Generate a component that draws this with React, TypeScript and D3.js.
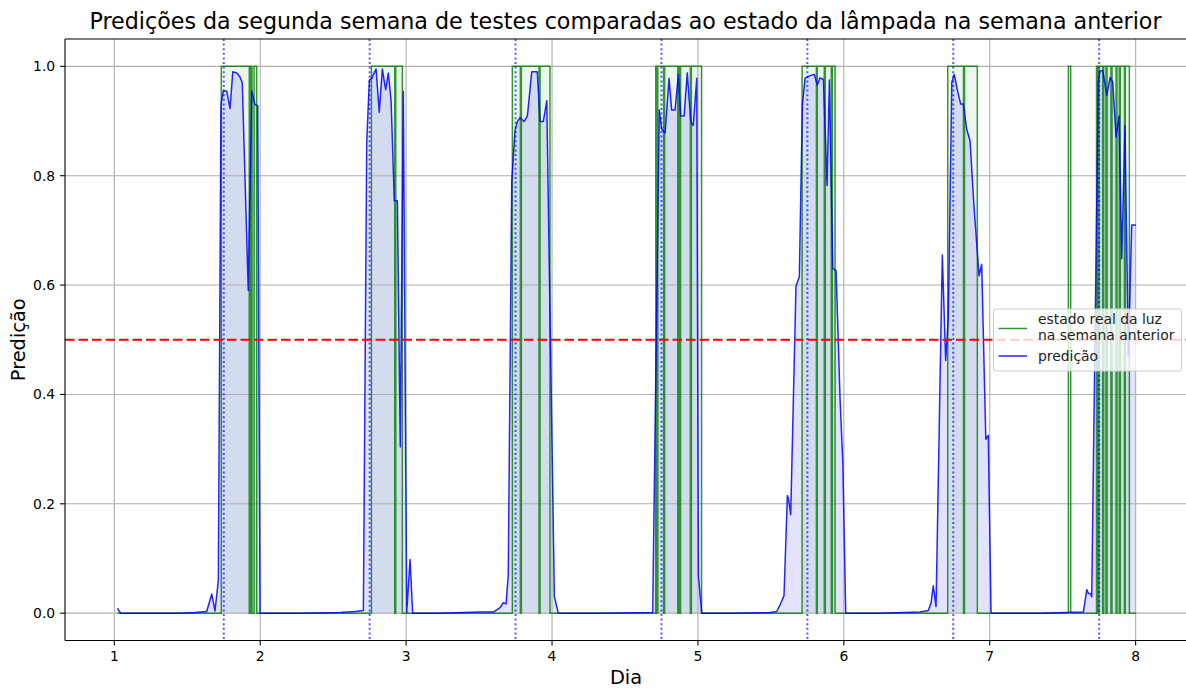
import React from "react";
import * as d3 from "d3";

// Canvas and plot frame
const WIDTH = 1186;
const HEIGHT = 688;
const PLOT = { left: 65, right: 1187, top: 39, bottom: 640.5 };

// Axes
const dayDomain: [number, number] = [0.662, 8.352];
const predDomain: [number, number] = [-0.05, 1.05];
const dayTicks = [1, 2, 3, 4, 5, 6, 7, 8];
const predTicks = [0, 0.2, 0.4, 0.6, 0.8, 1.0];

// Reference markers
const dayMarkers = [1.75, 2.75, 3.75, 4.75, 5.75, 6.75, 7.75];
const threshold = 0.5;

// Sampled span of both series
const seriesStart = 1.021;
const seriesEnd = 8.003;

// Model prediction, [day, value]
const predDay1: [number, number][] = [
  [1.021, 0.009], [1.044, 0], [1.45, 0], [1.553, 0.001], [1.633, 0.003], [1.668, 0.035],
  [1.69, 0.004], [1.713, 0.06], [1.731, 0.93], [1.747, 0.955], [1.77, 0.955], [1.793, 0.923],
  [1.812, 0.99], [1.839, 0.988], [1.862, 0.98], [1.877, 0.97], [1.918, 0.59], [1.942, 0.955],
  [1.964, 0.93], [1.983, 0.928], [1.999, 0],
];
const predDay2: [number, number][] = [
  [2.273, 0], [2.547, 0.001], [2.65, 0.003], [2.707, 0.005], [2.73, 0.861], [2.748, 0.975],
  [2.764, 0.978], [2.775, 0.985], [2.794, 0.995], [2.816, 0.916], [2.837, 0.995], [2.86, 0.957],
  [2.878, 0.988], [2.897, 0.937], [2.919, 0.754], [2.94, 0.754], [2.96, 0.304], [2.981, 0.954],
  [3.004, 0.001], [3.027, 0.098], [3.045, 0],
];
const predDay3: [number, number][] = [
  [3.232, 0], [3.507, 0.002], [3.598, 0.002], [3.644, 0.01], [3.666, 0.019], [3.685, 0.017],
  [3.7, 0.07], [3.724, 0.79], [3.746, 0.882], [3.762, 0.899], [3.781, 0.906], [3.808, 0.899],
  [3.831, 0.909], [3.861, 0.99], [3.899, 0.99], [3.918, 0.899], [3.94, 0.899], [3.964, 0.937],
  [4.016, 0.03], [4.043, 0],
];
const predDay4: [number, number][] = [
  [4.329, 0], [4.69, 0.001], [4.735, 0.92], [4.752, 0.885], [4.775, 0.878], [4.802, 0.978],
  [4.82, 0.92], [4.843, 0.92], [4.866, 0.985], [4.882, 0.909], [4.905, 0.909], [4.927, 0.988],
  [4.951, 0.899], [4.968, 0.892], [4.992, 0.978], [5.003, 0.07], [5.026, 0],
];
const predDay5: [number, number][] = [
  [5.22, 0], [5.494, 0.001], [5.54, 0.003], [5.563, 0.015], [5.59, 0.032], [5.613, 0.215],
  [5.62, 0.21], [5.636, 0.18], [5.672, 0.598], [5.695, 0.615], [5.716, 0.93], [5.734, 0.978],
  [5.768, 0.983], [5.798, 0.985], [5.818, 0.966], [5.837, 0.979], [5.86, 0.976], [5.885, 0.782],
  [5.901, 0.975], [5.924, 0.631], [5.947, 0.626], [5.974, 0.393], [5.993, 0.276], [6.013, 0],
];
const predDay6: [number, number][] = [
  [6.248, 0], [6.522, 0.002], [6.579, 0.005], [6.598, 0.019], [6.613, 0.05], [6.632, 0.012],
  [6.675, 0.655], [6.698, 0.462], [6.716, 0.538], [6.74, 0.971], [6.757, 0.985], [6.778, 0.957],
  [6.801, 0.931], [6.819, 0.931], [6.842, 0.885], [6.865, 0.864], [6.892, 0.744], [6.927, 0.617],
  [6.945, 0.638], [6.973, 0.318], [6.99, 0.325], [7.009, 0],
];
const predDay7: [number, number][] = [
  [7.345, 0], [7.642, 0.002], [7.665, 0.043], [7.676, 0.036], [7.688, 0.036], [7.699, 0.03],
  [7.744, 0.971], [7.756, 0.992], [7.775, 0.992], [7.802, 0.947], [7.825, 0.98], [7.843, 0.971],
  [7.866, 0.871], [7.886, 0.909], [7.905, 0.648], [7.927, 0.892], [7.95, 0.47], [7.973, 0.71],
  [8.003, 0.71],
];

// Periods when the lamp was on during the previous week, [start, end] in days
const lampOnDay1: [number, number][] = [[1.733, 1.925], [1.934, 1.944], [1.958, 1.976]];
const lampOnDay2: [number, number][] = [[2.762, 2.922], [2.929, 2.974]];
const lampOnDay3: [number, number][] = [[3.728, 3.783], [3.79, 3.911], [3.918, 3.986]];
const lampOnDay4: [number, number][] = [
  [4.711, 4.718], [4.725, 4.765], [4.772, 4.862], [4.868, 4.875], [4.881, 4.948], [4.955, 5.025],
];
const lampOnDay5: [number, number][] = [[5.714, 5.812], [5.818, 5.866], [5.873, 5.914], [5.921, 5.94]];
const lampOnDay6: [number, number][] = [[6.712, 6.82], [6.827, 6.915]];
const lampOnDay7: [number, number][] = [
  [7.539, 7.555], [7.732, 7.742], [7.749, 7.774], [7.781, 7.797], [7.804, 7.831],
  [7.838, 7.866], [7.872, 7.888], [7.895, 7.923], [7.929, 7.957],
];

const TITLE = "Predições da segunda semana de testes comparadas ao estado da lâmpada na semana anterior";
const X_LABEL = "Dia";
const Y_LABEL = "Predição";
const LEGEND_STATE = ["estado real da luz", "na semana anterior"];
const LEGEND_PRED = "predição";

const FONT = "'DejaVu Sans', sans-serif";

export default function App() {
  const x = d3.scaleLinear().domain(dayDomain).range([PLOT.left, PLOT.right]);
  const y = d3.scaleLinear().domain(predDomain).range([PLOT.bottom, PLOT.top]);

  const prediction = [
    ...predDay1, ...predDay2, ...predDay3, ...predDay4, ...predDay5, ...predDay6, ...predDay7,
  ];
  const lampOn = [
    ...lampOnDay1, ...lampOnDay2, ...lampOnDay3, ...lampOnDay4, ...lampOnDay5, ...lampOnDay6, ...lampOnDay7,
  ];

  // Lamp state as a 0/1 step series
  const state: [number, number][] = [[seriesStart, 0]];
  lampOn.forEach(([s, e]) => {
    state.push([s, 0], [s, 1], [e, 1], [e, 0]);
  });
  state.push([seriesEnd, 0]);

  const line = d3
    .line<[number, number]>()
    .x((d) => x(d[0]))
    .y((d) => y(d[1]));
  const area = d3
    .area<[number, number]>()
    .x((d) => x(d[0]))
    .y0(y(0))
    .y1((d) => y(d[1]));

  const plotW = PLOT.right - PLOT.left;
  const plotH = PLOT.bottom - PLOT.top;
  const midX = (PLOT.left + PLOT.right) / 2;
  const midY = (PLOT.top + PLOT.bottom) / 2;

  const legend = { x: 993.5, y: 309, w: 188, h: 62 };

  return (
    <svg
      width={WIDTH}
      height={HEIGHT}
      style={{ position: "absolute", left: 0, top: 0, background: "#fff" }}
      fontFamily={FONT}
    >
      <defs>
        <clipPath id="plot-clip">
          <rect x={PLOT.left} y={PLOT.top} width={plotW} height={plotH} />
        </clipPath>
      </defs>
      <rect x={0} y={0} width={WIDTH} height={HEIGHT} fill="#fff" />

      <g clipPath="url(#plot-clip)">
        {/* lamp-on shading */}
        {lampOn.map(([s, e], i) => (
          <rect
            key={`on-${i}`}
            x={x(s)}
            y={y(1)}
            width={x(e) - x(s)}
            height={y(0) - y(1)}
            fill="#008000"
            fillOpacity={0.07}
          />
        ))}
        {/* area under the prediction */}
        <path d={area(prediction) || ""} fill="#0000ff" fillOpacity={0.11} />

        {/* grid */}
        {dayTicks.map((t) => (
          <line key={`gx-${t}`} x1={x(t)} x2={x(t)} y1={PLOT.top} y2={PLOT.bottom} stroke="#b0b0b0" strokeWidth={1.1} />
        ))}
        {predTicks.map((t) => (
          <line key={`gy-${t}`} x1={PLOT.left} x2={PLOT.right} y1={y(t)} y2={y(t)} stroke="#b0b0b0" strokeWidth={1.1} />
        ))}

        {/* lamp state */}
        <path d={line(state) || ""} fill="none" stroke="#008000" strokeOpacity={0.8} strokeWidth={1.5} />
        {/* prediction */}
        <path d={line(prediction) || ""} fill="none" stroke="#0000ff" strokeOpacity={0.85} strokeWidth={1.5} strokeLinejoin="round" />

        {/* day markers */}
        {dayMarkers.map((m) => (
          <line
            key={`m-${m}`}
            x1={x(m)}
            x2={x(m)}
            y1={PLOT.top}
            y2={PLOT.bottom}
            stroke="#0000ff"
            strokeOpacity={0.65}
            strokeWidth={2}
            strokeDasharray="2 2.6"
          />
        ))}
        {/* decision threshold */}
        <line
          x1={PLOT.left}
          x2={PLOT.right}
          y1={y(threshold)}
          y2={y(threshold)}
          stroke="#ff0000"
          strokeWidth={2}
          strokeDasharray="9.5 4"
        />
      </g>

      {/* spines */}
      <g stroke="#000" strokeWidth={1.1} fill="none">
        <line x1={PLOT.left} x2={PLOT.left} y1={PLOT.top} y2={PLOT.bottom} />
        <line x1={PLOT.left} x2={PLOT.right} y1={PLOT.top} y2={PLOT.top} />
        <line x1={PLOT.left} x2={PLOT.right} y1={PLOT.bottom} y2={PLOT.bottom} />
        <line x1={PLOT.right} x2={PLOT.right} y1={PLOT.top} y2={PLOT.bottom} />
      </g>

      {/* x ticks */}
      {dayTicks.map((t) => (
        <g key={`xt-${t}`}>
          <line x1={x(t)} x2={x(t)} y1={PLOT.bottom} y2={PLOT.bottom + 4.9} stroke="#000" strokeWidth={1.1} />
          <text x={x(t)} y={661} textAnchor="middle" fontSize={13.9} fill="#000">
            {t}
          </text>
        </g>
      ))}
      {/* y ticks */}
      {predTicks.map((t) => (
        <g key={`yt-${t}`}>
          <line x1={PLOT.left - 4.9} x2={PLOT.left} y1={y(t)} y2={y(t)} stroke="#000" strokeWidth={1.1} />
          <text x={PLOT.left - 9.8} y={y(t) + 5} textAnchor="end" fontSize={13.9} fill="#000">
            {t.toFixed(1)}
          </text>
        </g>
      ))}

      {/* labels */}
      <text x={midX - 0.5} y={29} textAnchor="middle" fontSize={22.2} fill="#000">
        {TITLE}
      </text>
      <text x={626} y={684} textAnchor="middle" fontSize={19.4} fill="#000">
        {X_LABEL}
      </text>
      <text
        transform={`translate(25, ${midY}) rotate(-90)`}
        textAnchor="middle"
        fontSize={19.4}
        fill="#000"
      >
        {Y_LABEL}
      </text>

      {/* legend */}
      <g>
        <rect
          x={legend.x}
          y={legend.y}
          width={legend.w}
          height={legend.h}
          rx={3}
          fill="#fff"
          fillOpacity={0.8}
          stroke="#cccccc"
          strokeWidth={1}
        />
        <line x1={998.5} x2={1027} y1={328.5} y2={328.5} stroke="#008000" strokeOpacity={0.8} strokeWidth={1.5} />
        <text x={1038} y={324} fontSize={13.9} fill="#222">
          {LEGEND_STATE[0]}
        </text>
        <text x={1038} y={339.5} fontSize={13.9} fill="#222">
          {LEGEND_STATE[1]}
        </text>
        <line x1={998.5} x2={1027} y1={356} y2={356} stroke="#0000ff" strokeOpacity={0.85} strokeWidth={1.5} />
        <text x={1038} y={361} fontSize={13.9} fill="#222">
          {LEGEND_PRED}
        </text>
      </g>
    </svg>
  );
}
